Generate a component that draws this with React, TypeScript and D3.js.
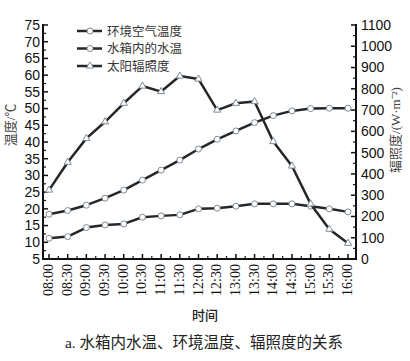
import React from "react";
import * as d3 from "d3";

// 时间点
const times = [
  "08:00", "08:30", "09:00", "09:30", "10:00", "10:30", "11:00", "11:30", "12:00",
  "12:30", "13:00", "13:30", "14:00", "14:30", "15:00", "15:30", "16:00",
];

// 环境空气温度 (℃)
const airTemp = [11.2, 11.7, 14.4, 15.2, 15.5, 17.5, 17.9, 18.2, 20.0, 20.2, 20.8, 21.5, 21.5, 21.5, 20.8, 20.0, 19.1];
// 水箱内的水温 (℃)
const waterTemp = [18.4, 19.5, 21.1, 23.2, 25.6, 28.6, 31.6, 34.6, 37.9, 40.8, 43.3, 45.8, 47.9, 49.3, 50.0, 50.1, 50.1];
// 太阳辐照度 (W·m⁻²)
const irradiance = [324, 455, 567, 645, 732, 813, 787, 860, 846, 700, 732, 740, 552, 437, 259, 140, 74];

const leftTicks = [5, 10, 15, 20, 25, 30, 35, 40, 45, 50, 55, 60, 65, 70, 75];
const rightTicks = [0, 100, 200, 300, 400, 500, 600, 700, 800, 900, 1000, 1100];

const legendItems = [
  { label: "环境空气温度", marker: "circle" },
  { label: "水箱内的水温", marker: "circle" },
  { label: "太阳辐照度", marker: "triangle" },
];

const W = 410;
const H = 361;
const plot = { left: 43, right: 356, top: 25, bottom: 259 };
const LINE = "#262626";
const MARK = "#7d8a96";
const numFont = "'Liberation Sans Narrow', 'Liberation Sans', Arial, sans-serif";
const cjkFont = "'Noto Sans CJK SC', sans-serif";
const serif = "'Liberation Serif', 'DejaVu Serif', serif";
const mixed = "'Liberation Serif', 'Noto Sans CJK SC', serif";

const Marker = ({ x, y, kind }: { x: number; y: number; kind: string }) =>
  kind === "triangle" ? (
    <path
      d={d3.symbol(d3.symbolTriangle, 22)() || ""}
      transform={`translate(${x},${y})`}
      fill="#fff"
      stroke={MARK}
      strokeWidth={1}
    />
  ) : (
    <circle cx={x} cy={y} r={3} fill="#fff" stroke={MARK} strokeWidth={1} />
  );

export default function App() {
  const x = d3.scalePoint<string>().domain(times).range([49, 348]);
  const yL = d3.scaleLinear().domain([5, 75]).range([plot.bottom, plot.top]);
  const yR = d3.scaleLinear().domain([0, 1100]).range([plot.bottom, plot.top]);

  const lineL = d3
    .line<number>()
    .x((_, i) => x(times[i]) as number)
    .y((d) => yL(d));
  const lineR = d3
    .line<number>()
    .x((_, i) => x(times[i]) as number)
    .y((d) => yR(d));

  const leftMinor = d3.range(7.5, 75, 5);
  const rightMinor = d3.range(50, 1100, 100);
  const step = x.step();

  const series = [
    { data: airTemp, path: lineL(airTemp), y: yL, marker: "circle" },
    { data: waterTemp, path: lineL(waterTemp), y: yL, marker: "circle" },
    { data: irradiance, path: lineR(irradiance), y: yR, marker: "triangle" },
  ];

  return (
    <svg
      width={W}
      height={H}
      style={{ position: "absolute", left: 0, top: 0, background: "#fff" }}
    >
      {/* 左轴 */}
      <line x1={plot.left} x2={plot.left} y1={plot.top - 1} y2={plot.bottom} stroke="#111" strokeWidth={2} />
      {leftTicks.map((t) => (
        <g key={t}>
          <line x1={plot.left} x2={plot.left + 5} y1={yL(t)} y2={yL(t)} stroke="#111" strokeWidth={1.5} />
          <text
            x={plot.left - 3}
            y={yL(t)}
            dy="0.35em"
            textAnchor="end"
            fontFamily={numFont}
            fontSize={14}
            fill="#111"
          >
            {t}
          </text>
        </g>
      ))}
      {leftMinor.map((t) => (
        <line key={t} x1={plot.left} x2={plot.left + 3} y1={yL(t)} y2={yL(t)} stroke="#111" strokeWidth={1.2} />
      ))}

      {/* 右轴 */}
      <line x1={plot.right} x2={plot.right} y1={plot.top - 1} y2={plot.bottom} stroke="#111" strokeWidth={2} />
      {rightTicks.map((t) => (
        <g key={t}>
          <line x1={plot.right - 5} x2={plot.right} y1={yR(t)} y2={yR(t)} stroke="#111" strokeWidth={1.5} />
          <text
            x={plot.right + 5}
            y={yR(t)}
            dy="0.35em"
            fontFamily={numFont}
            fontSize={14}
            fill="#111"
          >
            {t}
          </text>
        </g>
      ))}
      {rightMinor.map((t) => (
        <line key={t} x1={plot.right - 3} x2={plot.right} y1={yR(t)} y2={yR(t)} stroke="#111" strokeWidth={1.2} />
      ))}

      {/* 底轴 */}
      <line x1={plot.left - 1} x2={plot.right + 1} y1={plot.bottom} y2={plot.bottom} stroke="#111" strokeWidth={2} />
      {times.map((t, i) => (
        <g key={t}>
          <line
            x1={x(t)}
            x2={x(t)}
            y1={plot.bottom}
            y2={plot.bottom - 5}
            stroke="#111"
            strokeWidth={1.5}
          />
          {i < times.length - 1 && (
            <line
              x1={(x(t) as number) + step / 2}
              x2={(x(t) as number) + step / 2}
              y1={plot.bottom}
              y2={plot.bottom - 3}
              stroke="#111"
              strokeWidth={1.2}
            />
          )}
          <text
            transform={`translate(${(x(t) as number) + 4},${plot.bottom + 5}) rotate(-90)`}
            textAnchor="end"
            fontFamily={serif}
            fontSize={14}
            fill="#111"
          >
            {t}
          </text>
        </g>
      ))}

      {/* 轴标题 */}
      <text
        transform="translate(15,125) rotate(-90)"
        textAnchor="middle"
        fontFamily={mixed}
        fontSize={13}
        fill="#444"
      >
        温度/℃
      </text>
      <text
        transform="translate(400,130) rotate(-90)"
        textAnchor="middle"
        fontFamily={mixed}
        fontSize={13}
        fill="#444"
      >
        辐照度/(W·m⁻²)
      </text>
      <text x={205} y={320} textAnchor="middle" fontFamily={cjkFont} fontSize={13} fontWeight={500} fill="#222">
        时间
      </text>
      <text x={204} y={348} textAnchor="middle" fontFamily={mixed} fontSize={15.5} fill="#222">
        a. 水箱内水温、环境温度、辐照度的关系
      </text>

      {/* 折线 */}
      {series.map((s, k) => (
        <g key={k}>
          <path d={s.path || ""} fill="none" stroke={LINE} strokeWidth={2.5} strokeLinejoin="round" />
          {s.data.map((v, i) => (
            <Marker key={i} x={x(times[i]) as number} y={s.y(v)} kind={s.marker} />
          ))}
        </g>
      ))}

      {/* 图例 */}
      {legendItems.map((d, i) => {
        const ly = 31 + i * 17.5;
        return (
          <g key={d.label}>
            <line x1={77} x2={102} y1={ly} y2={ly} stroke={LINE} strokeWidth={2.5} />
            <Marker x={90} y={ly} kind={d.marker} />
            <text x={107} y={ly} dy="0.36em" fontFamily={cjkFont} fontSize={12.5} fill="#333">
              {d.label}
            </text>
          </g>
        );
      })}
    </svg>
  );
}
